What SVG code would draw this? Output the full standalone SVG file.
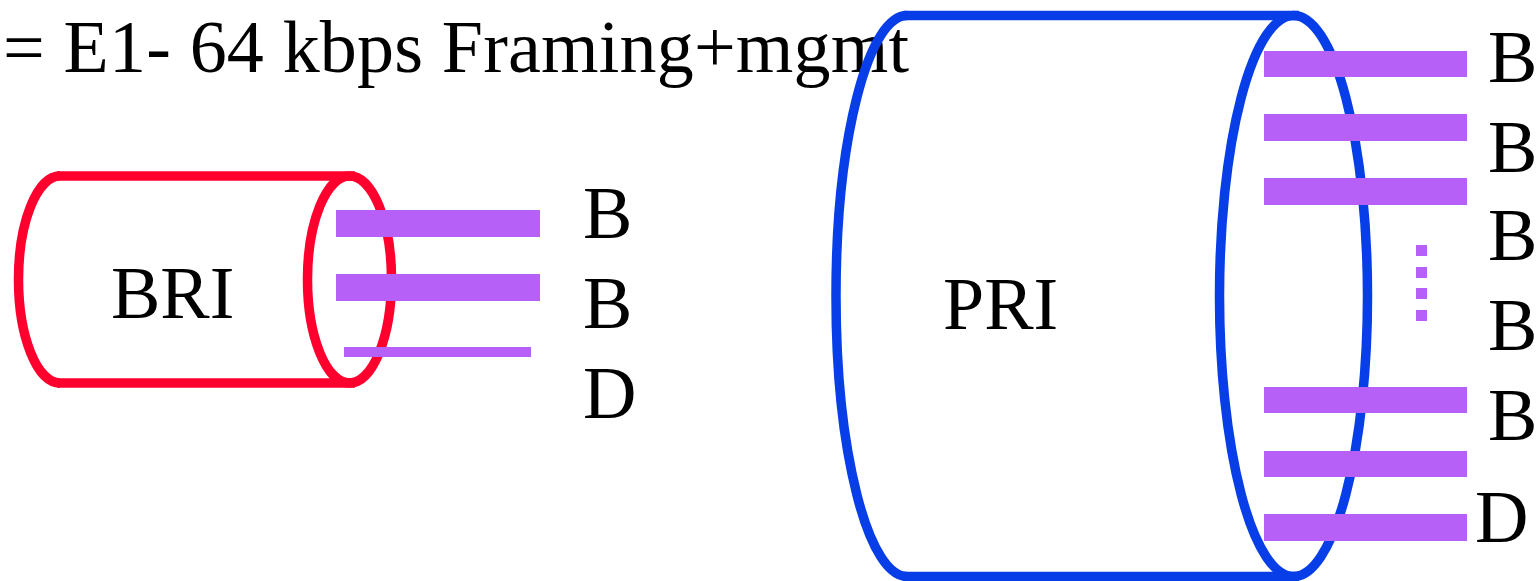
<svg xmlns="http://www.w3.org/2000/svg" width="1539" height="581" viewBox="0 0 1539 581">
<style>
text{font-family:"Liberation Serif","Times New Roman",serif;font-size:74px;fill:#000}
.red{fill:none;stroke:#ff002e;stroke-width:9.5}
.blue{fill:none;stroke:#073ee8;stroke-width:9.5}
.bar{fill:#b660f7}
</style>
<rect width="1539" height="581" fill="#fff"/>
<text id="title" x="3" y="72" textLength="906" lengthAdjust="spacing">= E1- 64 kbps Framing+mgmt</text>
<g id="bri">
<line class="red" x1="57" y1="176" x2="355" y2="176"/>
<line class="red" x1="57" y1="383" x2="355" y2="383"/>
<path class="red" d="M60 176 A41.5 103.5 0 0 0 60 383"/>
<ellipse class="red" cx="349.5" cy="279.5" rx="42" ry="103.5"/>
<text x="111" y="318">BRI</text>
</g>
<g id="bri-channels">
<rect class="bar" x="336" y="210" width="204" height="27"/>
<rect class="bar" x="336" y="274" width="204" height="27"/>
<rect class="bar" x="344" y="347" width="187" height="10"/>
<text x="583" y="238">B</text>
<text x="583" y="328">B</text>
<text x="583" y="418">D</text>
</g>
<g id="pri">
<line class="blue" x1="904" y1="15.5" x2="1299" y2="15.5"/>
<line class="blue" x1="904" y1="576.5" x2="1299" y2="576.5"/>
<path class="blue" d="M907 15.5 A71 280.5 0 0 0 907 576.5"/>
<ellipse class="blue" cx="1293.5" cy="296" rx="74" ry="280.5"/>
<text x="943" y="329">PRI</text>
</g>
<g id="pri-channels">
<rect class="bar" x="1264" y="51" width="203" height="26"/>
<rect class="bar" x="1264" y="114" width="203" height="27"/>
<rect class="bar" x="1264" y="178" width="203" height="27"/>
<rect class="bar" x="1416" y="245" width="11" height="11"/>
<rect class="bar" x="1416" y="267" width="11" height="11"/>
<rect class="bar" x="1416" y="288" width="11" height="11"/>
<rect class="bar" x="1416" y="310" width="11" height="11"/>
<rect class="bar" x="1264" y="387" width="203" height="26"/>
<rect class="bar" x="1264" y="451" width="203" height="26"/>
<rect class="bar" x="1264" y="514" width="203" height="27"/>
<text x="1488" y="82">B</text>
<text x="1488" y="172">B</text>
<text x="1488" y="260">B</text>
<text x="1488" y="350">B</text>
<text x="1488" y="440">B</text>
<text x="1475" y="542">D</text>
</g>
<g id="connectors"></g>
</svg>
